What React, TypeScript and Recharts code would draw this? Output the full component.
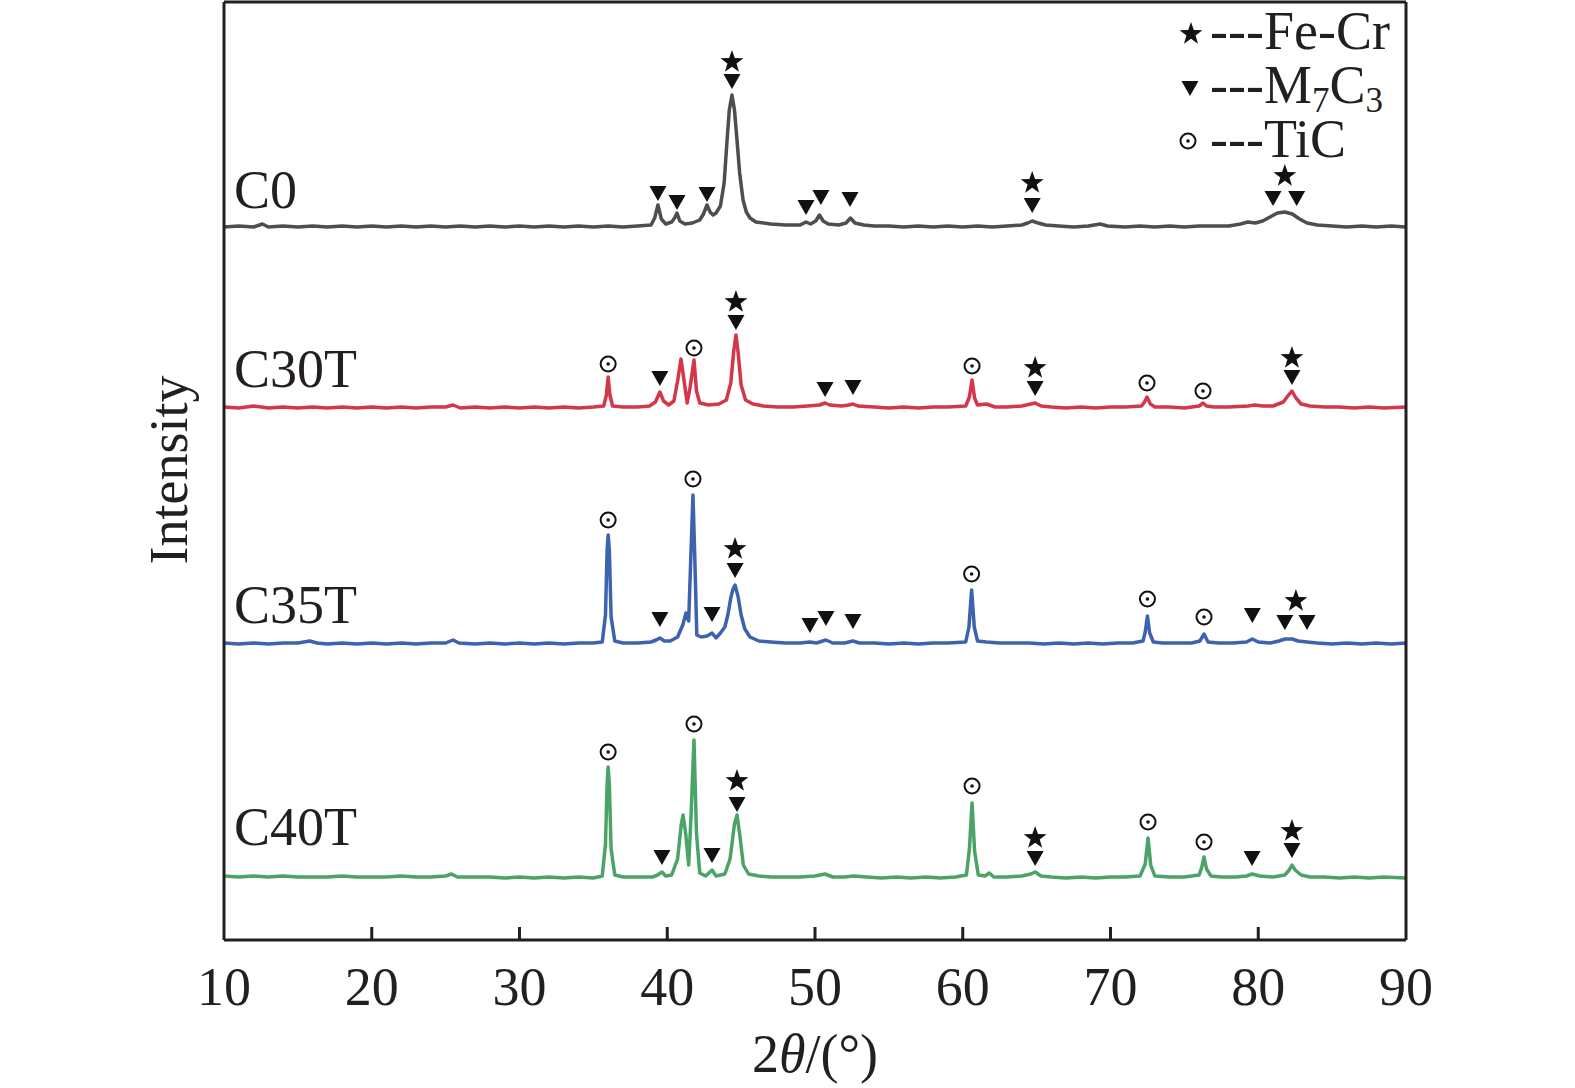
import React from "react";
import { ComposedChart, Line, Scatter, XAxis, YAxis } from "recharts";

// 2θ (deg) vs intensity above each pattern's own baseline (a.u.)
const C0_PTS: [number, number][] = [
  [10, 1], [11, 2], [12, 1], [12.6, 4], [13, 1], [14, 2], [15, 1], [16, 2], [17, 1], [18, 2],
  [19, 1], [20, 2], [21, 1], [22, 2], [23, 1], [24, 2], [25, 1], [26, 2], [27, 1], [28, 2],
  [29, 1], [30, 2], [31, 1], [32, 2], [33, 1], [34, 2], [35, 1], [36, 2], [37, 1], [38, 2],
  [38.9, 3], [39.15, 10], [39.37, 23], [39.6, 9], [39.9, 4], [40.3, 6], [40.5, 10], [40.66, 15],
  [40.85, 7], [41.2, 4], [41.7, 5], [42.2, 8], [42.45, 14], [42.69, 23], [42.9, 16], [43.1, 13],
  [43.3, 15], [43.6, 22], [43.85, 45], [44.05, 88], [44.2, 118], [44.38, 133], [44.55, 118],
  [44.72, 88], [44.9, 55], [45.13, 28], [45.35, 16], [45.6, 10], [46, 6], [47, 4], [48, 3],
  [49, 3], [49.39, 6], [49.7, 4], [50.05, 7], [50.3, 13], [50.55, 7], [50.9, 4], [51.6, 3],
  [52.1, 5], [52.4, 10], [52.7, 5], [53.3, 3], [54, 2], [55, 2], [56, 1], [57, 2], [58, 1],
  [59, 2], [60, 1], [61, 2], [62, 1], [63, 2], [64, 3], [64.4, 5], [64.7, 7], [65.1, 5],
  [65.6, 3], [66.5, 2], [67.5, 1], [68.5, 2], [69.3, 4], [69.8, 2], [71, 1], [72, 2], [73, 1],
  [74, 2], [75, 1], [76, 2], [77, 2], [78, 2], [78.8, 4], [79.3, 6], [79.8, 5], [80.3, 7],
  [80.8, 11], [81.3, 15], [81.8, 16], [82.3, 14], [82.8, 9], [83.3, 5], [84, 3], [85, 2],
  [86, 1], [87, 2], [88, 1], [89, 2], [90, 1],
];

const C30T_PTS: [number, number][] = [
  [10, 2], [11, 1], [12, 3], [13, 1], [14, 2], [15, 1], [16, 2], [17, 1], [18, 2], [19, 1],
  [20, 2], [21, 1], [22, 2], [23, 1], [24, 2], [25, 2], [25.5, 4], [26, 1], [27, 2], [28, 1],
  [29, 2], [30, 1], [31, 2], [32, 1], [33, 2], [34, 1], [35, 2], [35.7, 3], [35.88, 14],
  [36.0, 32], [36.12, 14], [36.3, 3], [37, 2], [38, 2], [38.8, 3], [39.2, 7], [39.5, 17],
  [39.75, 8], [40.1, 4], [40.45, 8], [40.7, 28], [40.93, 50], [41.12, 30], [41.35, 6],
  [41.55, 22], [41.81, 49], [41.98, 18], [42.2, 6], [42.8, 4], [43.5, 5], [44.0, 9], [44.3, 26],
  [44.5, 58], [44.65, 74], [44.8, 56], [45.0, 24], [45.3, 9], [45.8, 5], [46.5, 3], [47.5, 2],
  [48.5, 2], [49.5, 3], [50.3, 4], [50.68, 6], [51.0, 4], [51.8, 3], [52.3, 4], [52.57, 5],
  [52.9, 3], [54, 2], [55, 1], [56, 2], [57, 1], [58, 2], [59, 2], [60.2, 3], [60.45, 12],
  [60.63, 29], [60.8, 11], [61.0, 4], [61.6, 5], [62.2, 2], [63, 2], [64, 3], [64.6, 5],
  [64.9, 6], [65.3, 3], [66, 2], [67, 1], [68, 2], [69, 1], [70, 2], [71, 2], [72.1, 3],
  [72.3, 7], [72.47, 12], [72.7, 5], [73, 2], [74, 2], [75, 1], [76.0, 3], [76.26, 6],
  [76.5, 3], [77, 2], [78, 2], [79.3, 3], [79.78, 4], [80.3, 3], [81, 3], [81.7, 7], [82.0, 13],
  [82.28, 18], [82.55, 11], [82.9, 5], [83.5, 3], [84.5, 2], [85.5, 2], [86.5, 1], [87.5, 2],
  [88.5, 1], [90, 2],
];

const C35T_PTS: [number, number][] = [
  [10, 2], [11, 1], [12, 2], [13, 1], [14, 2], [15, 2], [15.8, 4], [16.3, 2], [17, 1], [18, 2],
  [19, 1], [20, 2], [21, 1], [22, 2], [23, 1], [24, 2], [25, 2], [25.5, 5], [25.9, 2], [27, 1],
  [28, 2], [29, 1], [30, 2], [31, 1], [32, 2], [33, 1], [34, 2], [35, 2], [35.6, 3],
  [35.82, 30], [35.93, 95], [36.0, 110], [36.08, 95], [36.2, 28], [36.45, 4], [37, 2], [38, 2],
  [38.9, 3], [39.25, 5], [39.5, 7], [39.8, 4], [40.2, 4], [40.7, 8], [41.05, 20], [41.27, 32],
  [41.45, 24], [41.6, 90], [41.74, 150], [41.86, 90], [42.0, 10], [42.3, 8], [42.7, 9],
  [43.03, 12], [43.3, 7], [43.6, 12], [43.9, 18], [44.1, 30], [44.3, 47], [44.45, 56],
  [44.59, 60], [44.8, 48], [45.0, 30], [45.25, 16], [45.6, 8], [46.2, 4], [47, 3], [48, 2],
  [49, 2], [49.66, 3], [50.1, 2], [50.74, 5], [51.2, 2], [52, 2], [52.57, 4], [53, 2], [54, 2],
  [55, 1], [56, 2], [57, 1], [58, 2], [59, 2], [60.2, 3], [60.42, 18], [60.6, 55], [60.78, 18],
  [61.0, 4], [61.6, 3], [62.5, 2], [63.5, 2], [64.5, 2], [65.5, 1], [66.5, 2], [67.5, 1],
  [68.5, 2], [69.5, 1], [70.5, 2], [71.5, 2], [72.2, 4], [72.35, 13], [72.5, 29], [72.65, 12],
  [72.9, 3], [73.5, 2], [74.5, 2], [75.5, 2], [76.05, 4], [76.33, 11], [76.6, 3], [77.3, 2],
  [78.3, 2], [79.2, 3], [79.6, 6], [80.0, 3], [80.8, 2], [81.4, 4], [81.8, 6], [82.3, 6],
  [82.7, 4], [83.3, 3], [84, 2], [85, 1], [86, 2], [87, 1], [88, 2], [89, 1], [90, 2],
];

const C40T_PTS: [number, number][] = [
  [10, 3], [11, 2], [12, 3], [13, 2], [14, 3], [15, 2], [16, 2], [17, 2], [18, 3], [19, 2],
  [20, 2], [21, 2], [22, 3], [23, 2], [24, 2], [25, 3], [25.4, 5], [25.8, 2], [27, 2], [28, 2],
  [29, 1], [30, 2], [31, 1], [32, 2], [33, 1], [34, 2], [35, 1], [35.6, 3], [35.82, 35],
  [35.93, 95], [36.0, 112], [36.08, 95], [36.2, 30], [36.45, 4], [37, 2], [38, 2], [39, 2],
  [39.35, 4], [39.64, 7], [39.9, 3], [40.3, 4], [40.7, 20], [40.95, 55], [41.07, 64],
  [41.25, 45], [41.45, 14], [41.6, 60], [41.81, 139], [41.98, 45], [42.2, 6], [42.6, 3],
  [43.03, 9], [43.3, 3], [43.9, 5], [44.25, 20], [44.55, 55], [44.72, 64], [44.9, 45],
  [45.15, 14], [45.5, 5], [46.2, 3], [47, 2], [48, 2], [49, 2], [50, 3], [50.68, 5], [51.2, 2],
  [52, 2], [52.6, 3], [53.5, 2], [54.5, 1], [55.5, 2], [56.5, 1], [57.5, 2], [58.5, 1],
  [59.5, 2], [60.25, 4], [60.45, 30], [60.63, 76], [60.8, 28], [61.05, 4], [61.5, 3],
  [61.8, 6], [62.1, 2], [63, 2], [64, 3], [64.6, 5], [64.9, 7], [65.3, 3], [66, 2], [67, 1],
  [68, 2], [69, 1], [70, 2], [71, 2], [72, 3], [72.35, 15], [72.54, 41], [72.72, 14], [73, 3],
  [74, 2], [75, 2], [76.0, 4], [76.18, 12], [76.33, 22], [76.5, 10], [76.8, 3], [77.5, 2],
  [78.5, 2], [79.2, 3], [79.58, 5], [80.1, 3], [81, 2], [81.8, 4], [82.1, 9], [82.28, 14],
  [82.5, 9], [82.9, 4], [83.5, 2], [84.5, 2], [85.5, 1], [86.5, 2], [87.5, 1], [88.5, 2],
  [90, 1],
];

// vertical offset used to stack the patterns
const OFFSETS = { C0: 712, C30T: 531, C35T: 295, C40T: 61 };

// phase marks: [2θ, height above baseline, phase]
type Mark = [number, number, "star" | "tri" | "tic"];

const C0_MARKS: Mark[] = [
  [44.38, 167, "star"], [44.38, 147, "tri"], [39.37, 35, "tri"], [40.66, 26, "tri"],
  [42.69, 34, "tri"], [49.39, 21, "tri"], [50.4, 31, "tri"], [52.37, 29, "tri"],
  [64.7, 46, "star"], [64.7, 23, "tri"], [81.8, 53, "star"], [81.0, 30, "tri"], [82.6, 30, "tri"],
];

const C30T_MARKS: Mark[] = [
  [36.0, 45, "tic"], [39.5, 31, "tri"], [41.81, 61, "tic"], [44.65, 108, "star"],
  [44.65, 87, "tri"], [50.68, 20, "tri"], [52.57, 22, "tri"], [60.63, 43, "tic"],
  [64.9, 42, "star"], [64.9, 21, "tri"], [72.47, 26, "tic"], [76.26, 18, "tic"],
  [82.28, 52, "star"], [82.28, 32, "tri"],
];

const C35T_MARKS: Mark[] = [
  [36.0, 125, "tic"], [39.5, 26, "tri"], [41.74, 166, "tic"], [43.03, 31, "tri"],
  [44.59, 97, "star"], [44.59, 75, "tri"], [49.66, 20, "tri"], [50.74, 27, "tri"],
  [52.57, 24, "tri"], [60.6, 71, "tic"], [72.5, 46, "tic"], [76.33, 28, "tic"],
  [79.6, 30, "tri"], [82.55, 45, "star"], [81.8, 23, "tri"], [83.3, 23, "tri"],
];

const C40T_MARKS: Mark[] = [
  [36.0, 127, "tic"], [41.81, 155, "tic"], [39.64, 22, "tri"], [43.03, 24, "tri"],
  [44.72, 99, "star"], [44.72, 75, "tri"], [60.63, 93, "tic"], [64.9, 42, "star"],
  [64.9, 21, "tri"], [72.54, 57, "tic"], [76.33, 37, "tic"], [79.58, 21, "tri"],
  [82.28, 49, "star"], [82.28, 29, "tri"],
];

const X_TICKS = [10, 20, 30, 40, 50, 60, 70, 80, 90];

const INK = "#231f20";
const FONT = "'Liberation Serif', 'Times New Roman', serif";

const SERIES = [
  { name: "C0", pts: C0_PTS, marks: C0_MARKS, off: OFFSETS.C0, color: "#4d4d52" },
  { name: "C30T", pts: C30T_PTS, marks: C30T_MARKS, off: OFFSETS.C30T, color: "#d4364a" },
  { name: "C35T", pts: C35T_PTS, marks: C35T_MARKS, off: OFFSETS.C35T, color: "#3d63ae" },
  { name: "C40T", pts: C40T_PTS, marks: C40T_MARKS, off: OFFSETS.C40T, color: "#4aa467" },
];

function starPath(cx: number, cy: number, r: number) {
  const pts: string[] = [];
  for (let i = 0; i < 10; i++) {
    const rad = i % 2 === 0 ? r : r * 0.4;
    const a = -Math.PI / 2 + (i * Math.PI) / 5;
    pts.push(`${cx + rad * Math.cos(a)},${cy + rad * Math.sin(a)}`);
  }
  return `M${pts.join("L")}Z`;
}

function Glyph({ cx, cy, kind }: { cx: number; cy: number; kind: string }) {
  if (kind === "star") return <path d={starPath(cx, cy + 1, 12)} fill="#111" />;
  if (kind === "tri")
    return <path d={`M${cx - 8.5},${cy - 7} L${cx + 8.5},${cy - 7} L${cx},${cy + 8} Z`} fill="#111" />;
  return (
    <g>
      <circle cx={cx} cy={cy} r={7.5} fill="#fff" stroke="#111" strokeWidth={2} />
      <circle cx={cx} cy={cy} r={1.8} fill="#111" />
    </g>
  );
}

const renderMark = (props: any) => (
  <Glyph cx={props.cx} cy={props.cy} kind={props.payload.k} />
);

function BottomTick(props: any) {
  const { x, y, payload } = props;
  const v = payload.value;
  return (
    <g>
      {v > 10 && v < 90 && (
        <line x1={x} x2={x} y1={y} y2={y - 13} stroke={INK} strokeWidth={3} />
      )}
      <text x={x} y={y + 65} textAnchor="middle" fontSize={54} fill={INK} fontFamily={FONT}>
        {v}
      </text>
    </g>
  );
}

export default function App() {
  const axisLine = { stroke: INK, strokeWidth: 3 };
  return (
    <div
      style={{
        position: "absolute",
        left: 0,
        top: 0,
        width: 1575,
        height: 1088,
        background: "#fff",
        fontFamily: FONT,
      }}
    >
      <ComposedChart
        width={1575}
        height={1088}
        margin={{ top: 1, right: 168, bottom: 0, left: 223 }}
      >
        <XAxis
          type="number"
          dataKey="x"
          domain={[10, 90]}
          ticks={X_TICKS}
          interval={0}
          allowDataOverflow
          height={148}
          tickSize={0}
          tickMargin={0}
          tickLine={false}
          axisLine={axisLine}
          tick={<BottomTick />}
        />
        <XAxis
          xAxisId="top"
          orientation="top"
          type="number"
          domain={[10, 90]}
          height={1}
          tick={false}
          tickLine={false}
          axisLine={axisLine}
        />
        <YAxis
          type="number"
          dataKey="y"
          domain={[0, 938]}
          allowDataOverflow
          width={1}
          tick={false}
          tickLine={false}
          axisLine={axisLine}
        />
        <YAxis
          yAxisId="right"
          orientation="right"
          type="number"
          domain={[0, 938]}
          width={1}
          tick={false}
          tickLine={false}
          axisLine={axisLine}
        />
        {SERIES.map((s) => (
          <Line
            key={s.name}
            data={s.pts.map(([x, v]) => ({ x, y: v + s.off }))}
            dataKey="y"
            type="linear"
            stroke={s.color}
            strokeWidth={3.5}
            strokeLinejoin="round"
            dot={false}
            isAnimationActive={false}
          />
        ))}
        {SERIES.map((s) => (
          <Scatter
            key={s.name + "-marks"}
            data={s.marks.map(([x, v, k]) => ({ x, y: v + s.off, k }))}
            dataKey="y"
            shape={renderMark}
            isAnimationActive={false}
          />
        ))}
      </ComposedChart>

      <svg
        width={1575}
        height={1088}
        style={{ position: "absolute", left: 0, top: 0, pointerEvents: "none" }}
        fontFamily={FONT}
        fill={INK}
      >
        {/* sample names */}
        <text x={234} y={208} fontSize={54}>C0</text>
        <text x={234} y={387} fontSize={54}>C30T</text>
        <text x={234} y={623} fontSize={54}>C35T</text>
        <text x={234} y={845} fontSize={54}>C40T</text>

        {/* legend */}
        <Glyph cx={1191} cy={33} kind="star" />
        <text x={1210} y={49} fontSize={54}>---Fe-Cr</text>
        <Glyph cx={1190} cy={88} kind="tri" />
        <text x={1210} y={103} fontSize={54}>
          ---M<tspan fontSize={35} dy={9}>7</tspan>
          <tspan dy={-9}>C</tspan>
          <tspan fontSize={35} dy={9}>3</tspan>
        </text>
        <Glyph cx={1188} cy={141} kind="tic" />
        <text x={1210} y={157} fontSize={54}>---TiC</text>

        {/* axis titles */}
        <text
          x={0}
          y={0}
          fontSize={54}
          textAnchor="middle"
          transform="translate(187 470) rotate(-90)"
        >
          Intensity
        </text>
        <text x={815} y={1072} fontSize={54} textAnchor="middle">
          2<tspan fontStyle="italic">θ</tspan>/(°)
        </text>
      </svg>
    </div>
  );
}
